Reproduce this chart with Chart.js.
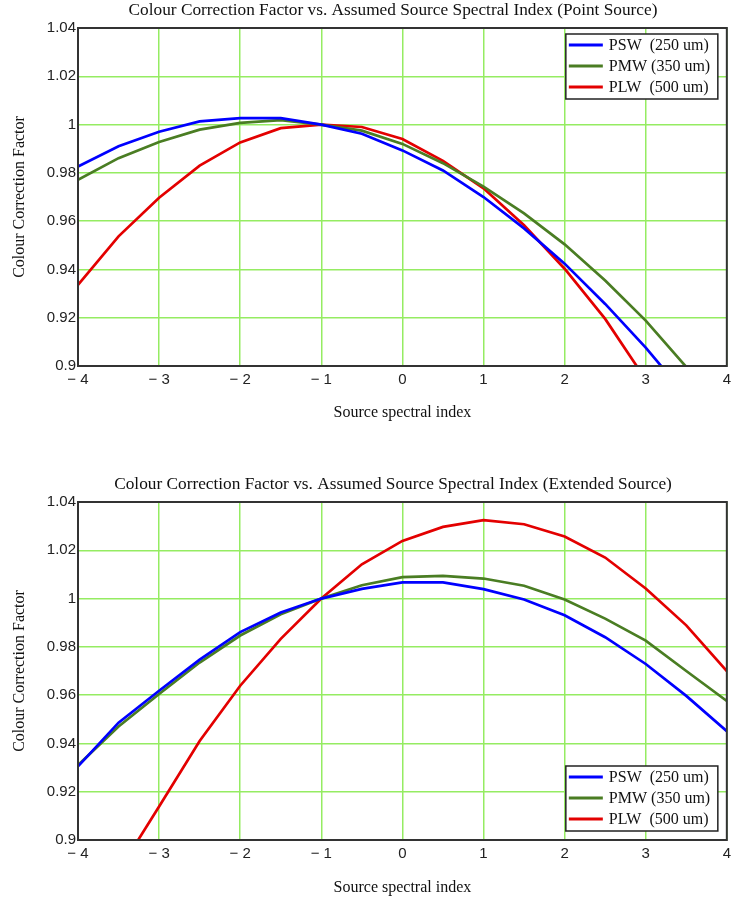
<!DOCTYPE html>
<html>
<head>
<meta charset="utf-8">
<script src="https://cdn.jsdelivr.net/npm/chart.js@4/dist/chart.umd.min.js"></script>
<style>
  html, body { margin: 0; padding: 0; background: #ffffff; }
  .wrap { position: relative; width: 736px; }
  #w1 { height: 474px; }
  #w2 { height: 433px; }
  canvas { display: block; }
</style>
</head>
<body>
<div class="wrap" id="w1"><canvas id="c1"></canvas></div>
<div class="wrap" id="w2"><canvas id="c2"></canvas></div>
<script>
// ---- data ----
const spectralIndex = [-4, -3.5, -3, -2.5, -2, -1.5, -1, -0.5, 0, 0.5, 1, 1.5, 2, 2.5, 3, 3.5, 4];

const seriesNames = ['PSW  (250 um)', 'PMW (350 um)', 'PLW  (500 um)'];
const seriesColors = ['#0000ff', '#4a7d23', '#e30000'];

const pswPoint = [0.9826, 0.9910, 0.9970, 1.0013, 1.0027, 1.0027, 1.0000, 0.9962, 0.9893, 0.9810, 0.9700, 0.9570, 0.9424, 0.9257, 0.9076, 0.8876, 0.8640];
const pmwPoint = [0.9771, 0.9861, 0.9928, 0.9979, 1.0007, 1.0018, 1.0000, 0.9975, 0.9920, 0.9840, 0.9743, 0.9632, 0.9504, 0.9354, 0.9188, 0.8996, 0.8780];
const plwPoint = [0.9336, 0.9537, 0.9697, 0.9830, 0.9926, 0.9985, 1.0000, 0.9990, 0.9940, 0.9850, 0.9736, 0.9583, 0.9403, 0.9195, 0.8944, 0.8660, 0.8340];

const pswExt = [0.9305, 0.9486, 0.9618, 0.9747, 0.9861, 0.9942, 1.0000, 1.0040, 1.0067, 1.0067, 1.0039, 0.9996, 0.9931, 0.9840, 0.9729, 0.9597, 0.9451];
const pmwExt = [0.9310, 0.9470, 0.9605, 0.9735, 0.9847, 0.9935, 1.0000, 1.0055, 1.0089, 1.0094, 1.0083, 1.0053, 0.9996, 0.9917, 0.9826, 0.9700, 0.9576];
const plwExt = [0.8560, 0.8870, 0.9139, 0.9410, 0.9639, 0.9833, 1.0000, 1.0142, 1.0239, 1.0297, 1.0325, 1.0308, 1.0257, 1.0170, 1.0042, 0.9889, 0.9700];

const titles = [
  'Colour Correction Factor vs. Assumed Source Spectral Index (Point Source)',
  'Colour Correction Factor vs. Assumed Source Spectral Index (Extended Source)'
];
const xAxisTitle = 'Source spectral index';
const yAxisTitle = 'Colour Correction Factor';
const yMin = 0.9, yMax = 1.04, yStep = 0.02;
const xMin = -4, xMax = 4, xStep = 1;

// ---- styling ----
const serif = '"Liberation Serif", "Times New Roman", serif';
const sans = '"Liberation Sans", Arial, sans-serif';
const gridColor = '#95ec62';
const frameColor = '#333333';

function buildDatasets(arrays) {
  return arrays.map((vals, i) => ({
    label: seriesNames[i],
    data: spectralIndex.map((x, k) => ({ x: x, y: vals[k] })),
    borderColor: seriesColors[i],
    backgroundColor: seriesColors[i],
    borderWidth: 2.7,
    pointRadius: 0,
    tension: 0,
    fill: false,
    clip: 0
  }));
}

const framePlugin = {
  id: 'frameAndLegend',
  afterDatasetsDraw(chart, args, opts) {
    const { ctx, chartArea: a } = chart;
    ctx.save();
    ctx.strokeStyle = frameColor;
    ctx.lineWidth = 2;
    ctx.strokeRect(a.left, a.top, a.right - a.left, a.bottom - a.top);

    // legend box inside the plot area
    const bw = 152, bh = 65;
    const bx = a.right - 9 - bw;
    const by = opts.place === 'top' ? a.top + 6 : a.bottom - 9 - bh;
    ctx.fillStyle = '#ffffff';
    ctx.fillRect(bx, by, bw, bh);
    ctx.lineWidth = 1.5;
    ctx.strokeStyle = '#222222';
    ctx.strokeRect(bx, by, bw, bh);
    const rows = [11, 32, 53];
    ctx.font = '16px ' + serif;
    ctx.textBaseline = 'middle';
    ctx.textAlign = 'left';
    chart.data.datasets.forEach((ds, i) => {
      const y = by + rows[i];
      ctx.strokeStyle = ds.borderColor;
      ctx.lineWidth = 3;
      ctx.beginPath();
      ctx.moveTo(bx + 3, y);
      ctx.lineTo(bx + 37, y);
      ctx.stroke();
      ctx.fillStyle = '#111111';
      ctx.fillText(ds.label, bx + 43, y + 1);
    });

    // chart title, centred slightly left of the plot centre as in the original
    ctx.font = '17.3px ' + serif;
    ctx.textAlign = 'center';
    ctx.textBaseline = 'middle';
    ctx.fillStyle = '#111111';
    ctx.fillText(opts.title, 393, 10);
    ctx.restore();
  }
};

function makeChart(id, arrays, titleText, canvasH, xTitlePadBottom, legendPlace) {
  return new Chart(document.getElementById(id), {
    type: 'line',
    data: { datasets: buildDatasets(arrays) },
    plugins: [framePlugin],
    options: {
      responsive: true,
      maintainAspectRatio: false,
      animation: false,
      layout: { padding: { left: 0, right: 6, top: 28, bottom: 0 } },
      plugins: {
        legend: { display: false },
        tooltip: { enabled: false },
        title: { display: false },
        frameAndLegend: { place: legendPlace, title: titleText }
      },
      scales: {
        x: {
          type: 'linear',
          min: xMin, max: xMax,
          grid: { color: gridColor, lineWidth: 1.5, drawTicks: false },
          border: { display: false },
          ticks: {
            stepSize: xStep,
            padding: 5,
            color: '#222222',
            font: { family: sans, size: 15 },
            maxRotation: 0,
            callback: v => (v < 0 ? '\u2212 ' + Math.abs(v) : String(v))
          },
          title: {
            display: true,
            text: xAxisTitle,
            color: '#111111',
            font: { family: serif, size: 16, lineHeight: 1.2 },
            padding: { top: 0, bottom: xTitlePadBottom }
          },
          afterFit: s => { s.height = canvasH - 366; }
        },
        y: {
          type: 'linear',
          min: yMin, max: yMax,
          grid: { color: gridColor, lineWidth: 1.5, drawTicks: false },
          border: { display: false },
          ticks: {
            stepSize: yStep,
            padding: 2,
            color: '#222222',
            font: { family: sans, size: 15 },
            callback: v => String(+Number(v).toFixed(2))
          },
          title: {
            display: true,
            text: yAxisTitle,
            color: '#111111',
            font: { family: serif, size: 16, lineHeight: 1.2 },
            padding: { top: 10.4, bottom: 0 }
          },
          afterFit: s => { s.width = 78; }
        }
      }
    }
  });
}

makeChart('c1', [pswPoint, pmwPoint, plwPoint], titles[0], 474, 51.4, 'top');
makeChart('c2', [pswExt, pmwExt, plwExt], titles[1], 433, 9.4, 'bottom');
</script>
</body>
</html>
